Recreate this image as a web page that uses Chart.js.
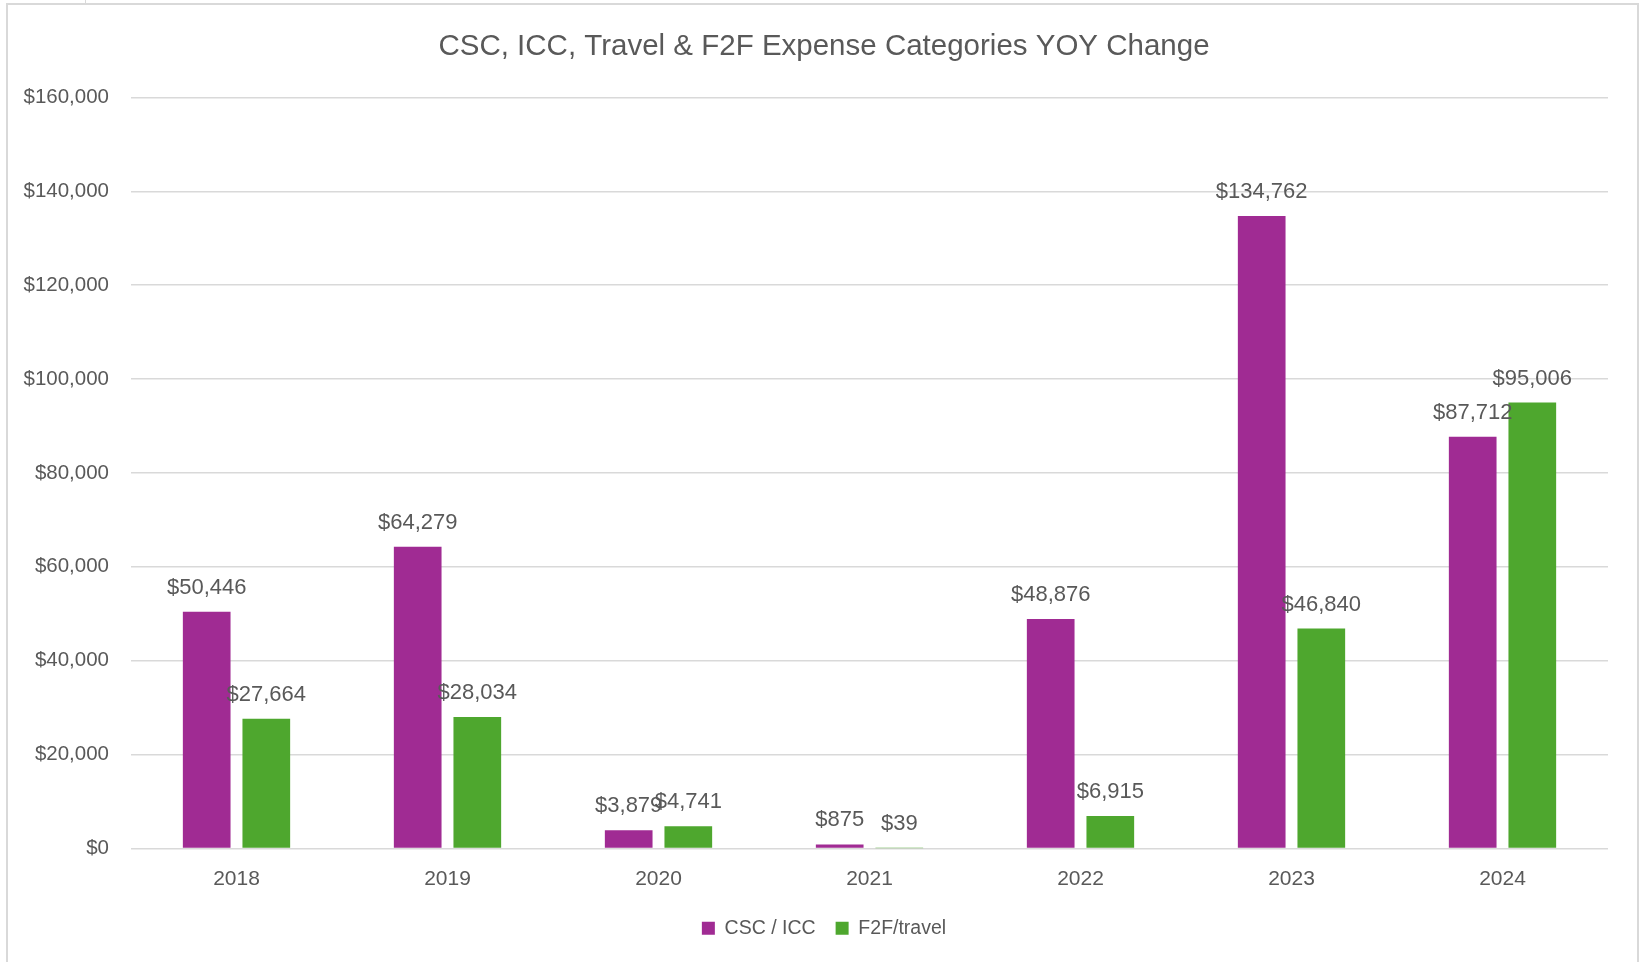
<!DOCTYPE html>
<html>
<head>
<meta charset="utf-8">
<script src="https://cdn.jsdelivr.net/npm/chart.js@4.4.1/dist/chart.umd.min.js"></script>
<style>
    html, body { margin: 0; padding: 0; background: #fff; overflow: hidden; }
    body { width: 1645px; height: 962px; position: relative; }
    .frame {
        position: absolute; left: 6px; top: 3px; width: 1629px; height: 970px;
        border: 2px solid #d9d9d9; border-bottom: none;
    }
    .tick-mark { position: absolute; left: 85px; top: 0; width: 1px; height: 4px; background: #d9d9d9; }
    .wrap { position: absolute; left: 9px; top: 6px; width: 1627px; height: 961px; }
</style>
</head>
<body>
<div class="frame"></div>
<div class="tick-mark"></div>
<div class="wrap"><canvas id="chart_canvas_yoy"></canvas></div>
<script>
// values
const years = ['2018', '2019', '2020', '2021', '2022', '2023', '2024'];
const cscIcc = [50446, 64279, 3879, 875, 48876, 134762, 87712];
const f2fTravel = [27664, 28034, 4741, 39, 6915, 46840, 95006];
const yTicks = [0, 20000, 40000, 60000, 80000, 100000, 120000, 140000, 160000];

const FONT = "'Liberation Sans', Arial, sans-serif";
const GREY_TEXT = '#595959';
const GRID = '#d9d9d9';

const money = v => '$' + Number(v).toLocaleString('en-US');

// bar value labels, Excel style, above each bar
const barLabels = {
    id: 'barLabels',
    afterDatasetsDraw(chart) {
        const ctx = chart.ctx;
        ctx.save();
        ctx.font = '22px ' + FONT;
        ctx.fillStyle = GREY_TEXT;
        ctx.textAlign = 'center';
        ctx.textBaseline = 'middle';
        chart.data.datasets.forEach((ds, i) => {
            chart.getDatasetMeta(i).data.forEach((bar, j) => {
                ctx.fillText(money(ds.data[j]), bar.x, bar.y - 24);
            });
        });
        ctx.restore();
    }
};

const ctx = document.getElementById('chart_canvas_yoy');
const chartObj = new Chart(ctx, {
    type: 'bar',
    data: {
        labels: years,
        datasets: [
            {label: 'CSC / ICC', data: cscIcc, backgroundColor: '#A02B93'},
            {label: 'F2F/travel', data: f2fTravel, backgroundColor: '#4EA72E'},
        ]
    },
    options: {
        responsive: true,
        maintainAspectRatio: false,
        animation: false,
        categoryPercentage: 0.565,
        barPercentage: 0.8,
        // left padding keeps title + legend centred like the Excel original
        layout: {padding: {left: 31, right: 28, top: 0, bottom: 19}},
        plugins: {
            title: {
                display: true,
                text: 'CSC, ICC, Travel & F2F Expense Categories YOY Change',
                color: GREY_TEXT,
                font: {family: FONT, size: 29.5, weight: 'normal', lineHeight: 1.2},
                padding: {top: 23, bottom: 33}
            },
            legend: {
                position: 'bottom',
                labels: {
                    color: GREY_TEXT,
                    font: {family: FONT, size: 19.5},
                    boxWidth: 13,
                    boxHeight: 13,
                    padding: 20
                }
            },
            tooltip: {enabled: false}
        },
        scales: {
            x: {
                grid: {display: false},
                border: {display: false},
                ticks: {color: GREY_TEXT, font: {family: FONT, size: 21}, padding: 10},
                afterFit(scale) { scale.height = 50; }
            },
            y: {
                min: 0,
                max: 160000,
                afterBuildTicks(scale) { scale.ticks = yTicks.map(v => ({value: v})); },
                grid: {color: GRID, lineWidth: 1.5, drawTicks: false},
                border: {display: false},
                ticks: {color: GREY_TEXT, font: {family: FONT, size: 20.5}, padding: 22, callback: v => money(v)},
                afterFit(scale) {
                    scale.width = 91;
                    // labels run into the left padding, so don't clip them to the axis box
                    scale._computeLabelArea = () => undefined;
                }
            }
        }
    },
    plugins: [barLabels]
});
</script>
</body>
</html>
